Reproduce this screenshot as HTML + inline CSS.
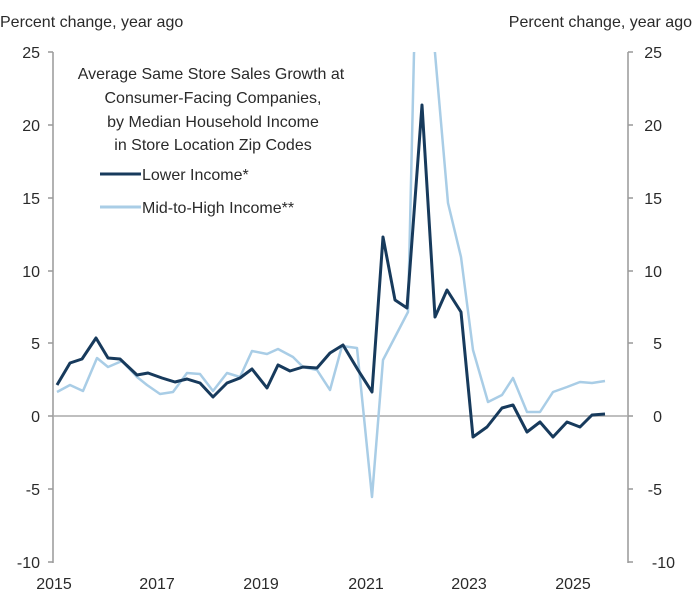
<!DOCTYPE html>
<html><head><style>
body{margin:0;background:#fff}
svg text{font-family:"Liberation Sans",sans-serif;fill:#2a2a2a}
</style></head><body>
<svg width="700" height="608" viewBox="0 0 700 608" xmlns="http://www.w3.org/2000/svg">
<defs><clipPath id="c"><rect x="53" y="52" width="575" height="512"/></clipPath></defs>
<text x="0" y="27" font-size="16">Percent change, year ago</text>
<text x="692" y="27" font-size="16" text-anchor="end">Percent change, year ago</text>
<g stroke="#999" stroke-width="1.5" fill="none">
<line x1="53" y1="52" x2="53" y2="563"/>
<line x1="628" y1="52" x2="628" y2="563"/>
<line x1="53" y1="416" x2="628" y2="416" stroke="#aaa"/>
<path d="M48 52H53M48 125H53M48 198H53M48 271H53M48 343H53M48 416H53M48 489H53M48 562H53"/>
<path d="M628 52H633M628 125H633M628 198H633M628 271H633M628 343H633M628 416H633M628 489H633M628 562H633"/>
</g>
<g font-size="16" text-anchor="end">
<text x="40" y="58">25</text><text x="40" y="131">20</text><text x="40" y="204">15</text><text x="40" y="277">10</text><text x="40" y="349">5</text><text x="40" y="422">0</text><text x="40" y="495">-5</text><text x="40" y="568">-10</text>
</g>
<g font-size="16" text-anchor="end">
<text x="662" y="58">25</text><text x="662" y="131">20</text><text x="662" y="204">15</text><text x="662" y="277">10</text><text x="662" y="349">5</text><text x="662" y="422">0</text><text x="662" y="495">-5</text><text x="675" y="568">-10</text>
</g>
<g font-size="16" text-anchor="middle">
<text x="54" y="589">2015</text><text x="157" y="589">2017</text><text x="261" y="589">2019</text><text x="366" y="589">2021</text><text x="469" y="589">2023</text><text x="573" y="589">2025</text>
</g>
<g font-size="16" text-anchor="middle">
<text x="211" y="79">Average  Same Store Sales Growth at</text>
<text x="213" y="103">Consumer-Facing  Companies,</text>
<text x="213" y="127">by Median Household  Income</text>
<text x="213" y="150">in Store Location Zip Codes</text>
</g>
<line x1="100" y1="174" x2="141" y2="174" stroke="#173a5c" stroke-width="3"/>
<text x="142" y="180" font-size="16">Lower Income*</text>
<line x1="100" y1="207" x2="141" y2="207" stroke="#a9cde6" stroke-width="3"/>
<text x="142" y="213" font-size="16">Mid-to-High Income**</text>
<g clip-path="url(#c)" fill="none" stroke-linejoin="round">
<polyline stroke="#a9cde6" stroke-width="2.5" points="57,392 70,385 83,391 97,358 108,367 122,361 137,377 147,385 160,394 173,392 187,373 200,374 213,391 227,373 240,377 252,351 267,354 278,349 293,357 303,367 317,370 330,390 342,346 357,348 372,497 383,360 395,337 408,312 414,53 421,-20 428,-20 435,53 448,203 461,257 473,350 488,402 502,395 513,378 527,412 540,412 553,392 567,387 580,382 592,383 605,381"/>
<polyline stroke="#173a5c" stroke-width="3" points="57,385 70,363 82,359 96,338 108,358 120,359 137,375 148,373 162,378 175,382 187,379 200,383 213,397 227,383 240,378 252,369 267,388 278,365 290,371 303,367 317,368 330,353 343,345 358,370 372,392 383,237 395,300 407,308 422,105 435,317 447,290 461,312 473,437 487,427 502,408 513,405 527,432 540,422 553,437 567,422 580,427 592,415 605,414"/>
</g>
</svg>
</body></html>
